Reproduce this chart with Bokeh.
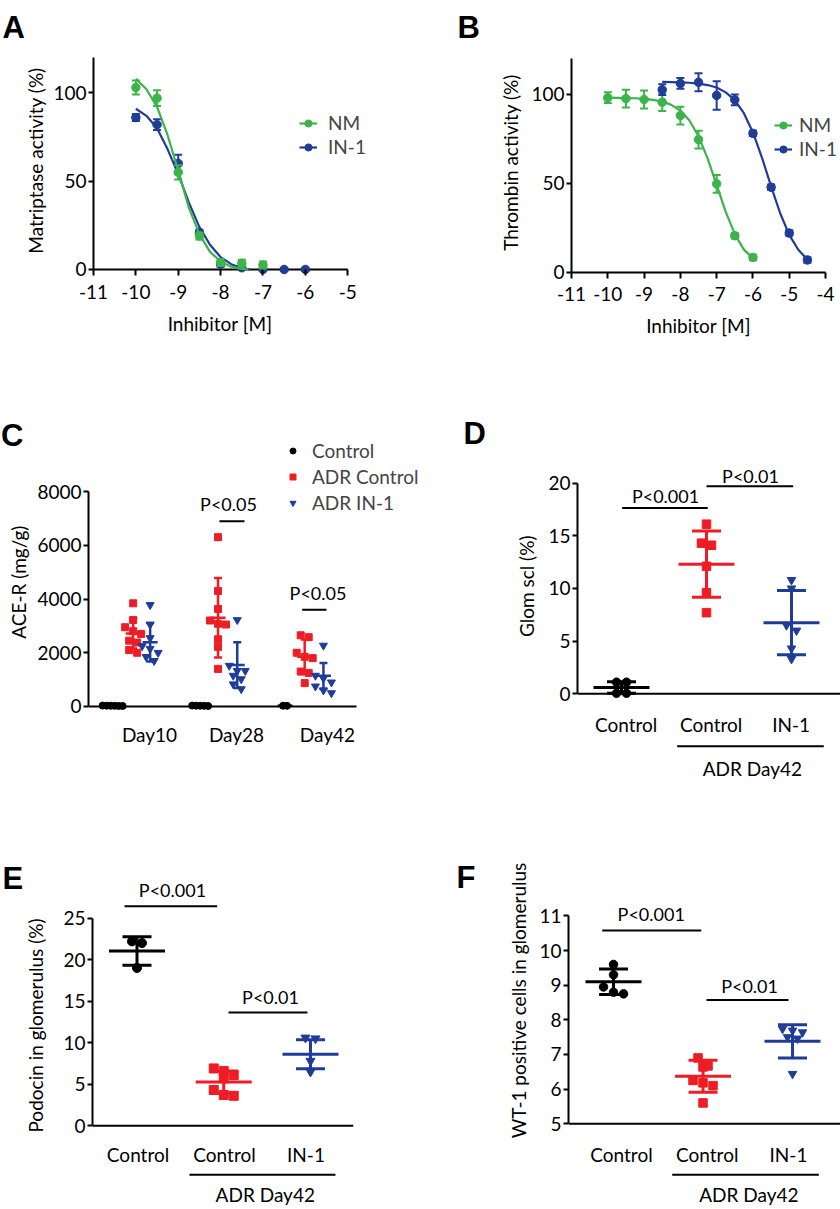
import math
from bokeh.plotting import figure
from bokeh.layouts import column, row
from bokeh.models import Span, Legend, LegendItem, FixedTicker, Range1d
from bokeh.core.properties import value
from bokeh.embed import file_html
from bokeh.resources import INLINE

FONT = "Lato"
LETTER_FONT = "Liberation Sans"
GREEN = "#3BB44A"
BLUE = "#1F3C98"
RED = "#EE1D25"
BLACK = "#000000"
FS = "19px"
PFS = "18px"

# ---------------- data ----------------
# A: matriptase activity vs log inhibitor
a_x_nm = [-10, -9.5, -9, -8.5, -8, -7.5, -7]
a_nm = [103, 97, 55, 19, 4, 3.5, 2.5]
a_nm_err = [4, 4.5, 4, 2, 2, 2, 2]
a_x_in1 = [-10, -9.5, -9, -8.5, -8, -7.5, -7, -6.5, -6]
a_in1 = [86, 82, 60, 21, 3, 1, 0, 0, 0]
a_in1_err = [2, 3, 5, 1.5, 1.5, 1, 0.5, 0.5, 0.5]
a_fit_x_nm = [-10, -9.75, -9.5, -9.25, -9, -8.75, -8.5, -8.25, -8, -7.75, -7.5, -7.35]
a_fit_nm = [108, 102, 92, 76, 56, 35, 20, 10, 4.5, 1.6, 0.3, 0]
a_fit_x_in1 = [-10, -9.75, -9.5, -9.25, -9, -8.75, -8.5, -8.25, -8, -7.75, -7.5, -7.3]
a_fit_in1 = [91, 87, 80, 68, 54, 38, 24, 14, 7, 3, 0.8, 0]
a_xticks = [-11, -10, -9, -8, -7, -6, -5]

# B: thrombin activity vs log inhibitor
b_x_nm = [-10, -9.5, -9, -8.5, -8, -7.5, -7, -6.5, -6]
b_nm = [98, 97.5, 97, 95.5, 88, 74.5, 49.7, 20.6, 8.4]
b_nm_err = [3, 5, 5, 5, 5, 5, 5, 1.5, 1.5]
b_x_in1 = [-8.5, -8, -7.5, -7, -6.5, -6, -5.5, -5, -4.5]
b_in1 = [102.5, 106, 106.7, 99.3, 96.8, 78, 47.8, 22.1, 7]
b_in1_err = [3, 3, 5, 8, 3, 1.5, 1.5, 1.5, 1.5]
b_fit_x_nm = [-10, -9.75, -9.5, -9.25, -9, -8.75, -8.5, -8.25, -8, -7.75, -7.5, -7.25, -7, -6.75, -6.5, -6.25, -6]
b_fit_nm = [98, 97.9, 97.8, 97.7, 97.4, 96.8, 95.9, 94.0, 90.8, 85.2, 76.4, 64.0, 49.0, 34.0, 21.5, 12.8, 8.0]
b_fit_x_in1 = [-8.5, -8.25, -8, -7.75, -7.5, -7.25, -7, -6.75, -6.5, -6.25, -6, -5.75, -5.5, -5.25, -5, -4.75, -4.5]
b_fit_in1 = [106.9, 106.8, 106.6, 106.4, 105.9, 105.1, 103.7, 101.0, 96.6, 89.3, 78.5, 64.3, 48.3, 33.2, 21.1, 12.7, 7.3]
b_xticks = [-11, -10, -9, -8, -7, -6, -5, -4]

# C: ACE-R (mg/g)
c_days = ["Day10", "Day28", "Day42"]
c_control = [[25, 30, 20, 35, 28, 22], [30, 25, 35, 20, 28], [25, 30]]
c_adr = [[3840, 3220, 2950, 2800, 2700, 2450, 2380, 2100, 2000],
         [6300, 4300, 3630, 3200, 3080, 3050, 2500, 2220, 1400],
         [2650, 2580, 2000, 1850, 1800, 1300, 1250, 870]]
c_in1 = [[3780, 3050, 2550, 2250, 2150, 2000, 1850, 1700],
         [3220, 1520, 1330, 1330, 1150, 1020, 830, 650],
         [2270, 1150, 1050, 900, 750, 600, 500]]
c_control_mean = [27, 28, 28]
c_control_sd = [5, 5, 4]
c_adr_mean = [2720, 3300, 1850]
c_adr_sd = [560, 1480, 640]
c_in1_mean = [2390, 1540, 1140]
c_in1_sd = [720, 850, 480]
c_yticks = [0, 2000, 4000, 6000, 8000]

# D: Glom scl (%)
d_ctrl = [1.1, 1.1, 0.05, 0.05]
d_adr = [16.1, 14.3, 14.1, 12.1, 9.6, 7.7]
d_in1 = [10.8, 10.0, 6.5, 6.0, 4.3, 3.3]
d_mean = [0.6, 12.3, 6.75]
d_sd = [0.55, 3.15, 3.05]
d_yticks = [0, 5, 10, 15, 20]

# E: Podocin in glomerulus (%)
e_ctrl = [22.2, 22.0, 19.0]
e_adr = [6.9, 6.6, 6.1, 5.7, 4.3, 3.7, 3.6]
e_in1 = [10.6, 10.5, 7.8, 6.5]
e_mean = [21.05, 5.25, 8.6]
e_sd = [1.72, 1.35, 1.75]
e_yticks = [0, 5, 10, 15, 20, 25]

# F: WT-1 positive cells in glomerulus
f_ctrl = [9.6, 9.3, 8.95, 8.8, 8.75]
f_adr = [6.9, 6.67, 6.64, 6.25, 6.18, 6.1, 5.6]
f_in1 = [7.74, 7.69, 7.64, 7.5, 7.46, 6.44]
f_mean = [9.1, 6.37, 7.38]
f_sd = [0.365, 0.46, 0.48]
f_yticks = [5, 6, 7, 8, 9, 10, 11]

group_labels = ["Control", "Control", "IN-1"]

# significance annotations: (text, line x0, line x1, line y, text x, text y)
c_sig = [("P<0.05", 1.466, 1.746, 6895, 1.567, 7528),
         ("P<0.05", 2.392, 2.664, 3598, 2.569, 4231)]
d_sig = [("P<0.001", 1.008, 2.015, 17.63, 1.518, 18.78),
         ("P<0.01", 2.0, 3.02, 19.69, 2.518, 20.66)]
e_sig = [("P<0.001", 0.856, 1.924, 26.43, 1.409, 28.37),
         ("P<0.01", 2.055, 2.965, 13.64, 2.539, 15.5)]
f_sig = [("P<0.001", 0.874, 1.98, 10.58, 1.421, 11.06),
         ("P<0.01", 2.039, 2.955, 8.575, 2.52, 8.99)]


# ---------------- helpers ----------------
def fig(w, h, xr, yr, left=0, right=0, top=0, bottom=0, axes=True):
    kw = {}
    if not axes:
        kw = dict(x_axis_location=None, y_axis_location=None)
    p = figure(width=w, height=h, x_range=xr, y_range=yr,
               toolbar_location=None, output_backend="svg", title=None,
               min_border_left=left, min_border_right=right,
               min_border_top=top, min_border_bottom=bottom, **kw)
    p.frame_align = False
    p.outline_line_color = None
    p.background_fill_color = "white"
    p.border_fill_color = "white"
    p.xgrid.visible = False
    p.ygrid.visible = False
    for r in list(p.center):
        if type(r).__name__ == "Grid":
            r.visible = False
    if axes:
        for ax in (p.xaxis[0], p.yaxis[0]):
            ax.major_label_text_font = FONT
            ax.major_label_text_font_size = FS
            ax.major_label_text_color = "black"
            ax.axis_line_width = 2
            ax.axis_line_color = "black"
            ax.major_tick_line_width = 2
            ax.major_tick_line_color = "black"
            ax.minor_tick_line_color = None
        p.xaxis.axis_line_color = None
        p.yaxis.major_tick_out = 5
        p.yaxis.major_tick_in = 0
        p.yaxis.major_label_standoff = 2
    return p


def txt(p, x, y, s, size=FS, angle=0.0, align="center", baseline="middle", font=FONT, style="normal"):
    p.text([x], [y], text=[s], angle=angle, text_font=value(font), text_font_size=size,
           text_font_style=style, text_align=align, text_baseline=baseline, text_color="black")


def strip(w, h, letter, lx, ly, title, tx, ty):
    s = fig(w, h, Range1d(0, w), Range1d(0, h), axes=False)
    txt(s, lx, ly, letter, size="31px", align="left", baseline="alphabetic",
        font=LETTER_FONT, style="bold")
    txt(s, tx, ty, title, angle=math.pi / 2)
    return s


def under(main, w, h, left, right):
    return fig(w, h, main.x_range, Range1d(0, h), left=left, right=right, axes=False)


def swarm(vals, center, px_x, px_y, size, spacing):
    idx = sorted(range(len(vals)), key=lambda i: -vals[i])
    bins = []
    for i in idx:
        if bins and abs(vals[bins[-1][0]] - vals[i]) * px_y < size:
            bins[-1].append(i)
        else:
            bins.append([i])
    xs = [center] * len(vals)
    for b in bins:
        k = len(b)
        for j, i in enumerate(b):
            xs[i] = center + (j - (k - 1) / 2) * spacing / px_x
    return xs


def dose_series(p, x, y, err, fx, fy, color, px_x):
    ln = p.line(fx, fy, line_color=color, line_width=2.2)
    lo = [a - e for a, e in zip(y, err)]
    hi = [a + e for a, e in zip(y, err)]
    cw = 4 / px_x
    p.segment(x, lo, x, hi, line_color=color, line_width=2)
    p.segment([a - cw for a in x], lo, [a + cw for a in x], lo, line_color=color, line_width=2)
    p.segment([a - cw for a in x], hi, [a + cw for a in x], hi, line_color=color, line_width=2)
    sc = p.scatter(x, y, marker="circle", size=8.5, fill_color=color, line_color=color)
    return ln, sc


def group(p, vals, mean, sd, cx, marker, color, size, px_x, px_y, spacing, mean_half, cap_half, lw):
    xs = swarm(vals, cx, px_x, px_y, size, spacing)
    r = p.scatter(xs, vals, marker=marker, size=size, fill_color=color, line_color=color)
    p.segment([cx], [mean - sd], [cx], [mean + sd], line_color=color, line_width=lw)
    cw = cap_half / px_x
    p.segment([cx - cw, cx - cw], [mean - sd, mean + sd], [cx + cw, cx + cw], [mean - sd, mean + sd],
              line_color=color, line_width=lw)
    mw = mean_half / px_x
    p.segment([cx - mw], [mean], [cx + mw], [mean], line_color=color, line_width=lw)
    return r


def sig(p, items):
    p.segment([s[1] for s in items], [s[3] for s in items], [s[2] for s in items], [s[3] for s in items],
              line_color="black", line_width=2)
    p.text([s[4] for s in items], [s[5] for s in items], text=[s[0] for s in items],
           text_font=value(FONT), text_font_size=PFS, text_align="center", text_baseline="middle",
           text_color="black")


def adr_bracket(u, x0, x1, y, tx, ty):
    u.segment([x0], [y], [x1], [y], line_color="black", line_width=2)
    txt(u, tx, ty, "ADR Day42")


def cat_axis(p, ticks, labels, standoff):
    p.xaxis.ticker = FixedTicker(ticks=ticks)
    p.xaxis.major_label_overrides = {t: l for t, l in zip(ticks, labels)}
    p.xaxis.major_tick_line_color = None
    p.xaxis.major_label_standoff = standoff


def num_xaxis(p, ticks, standoff):
    p.xaxis.ticker = FixedTicker(ticks=ticks)
    p.xaxis.major_label_overrides = {t: str(t) for t in ticks}
    p.xaxis.major_tick_in = 6
    p.xaxis.major_tick_out = 0
    p.xaxis.major_label_standoff = standoff
    p.segment([ticks[0]], [0], [ticks[-1]], [0], line_color="black", line_width=2)


# ---------------- A ----------------
pA = fig(370, 308, Range1d(-11, -3.282), Range1d(-3.4, 120), left=42, right=0, top=57, bottom=33)
pxA = 42.5
num_xaxis(pA, a_xticks, 9)
pA.yaxis.ticker = FixedTicker(ticks=[0, 50, 100])
pA.yaxis.bounds = (0, 120)
lnA2, scA2 = dose_series(pA, a_x_in1, a_in1, a_in1_err, a_fit_x_in1, a_fit_in1, BLUE, pxA)
lnA1, scA1 = dose_series(pA, a_x_nm, a_nm, a_nm_err, a_fit_x_nm, a_fit_nm, GREEN, pxA)
pA.add_layout(Legend(items=[LegendItem(label="NM", renderers=[lnA1, scA1]),
                            LegendItem(label="IN-1", renderers=[lnA2, scA2])],
                     location=(206, 117), border_line_color=None, background_fill_alpha=0,
                     padding=0, margin=0, spacing=1, glyph_width=18, glyph_height=20, label_height=20,
                     label_standoff=11, label_text_font=FONT, label_text_font_size=FS))
uA = under(pA, 370, 72, 42, 0)
txt(uA, (a_xticks[0] + a_xticks[-1]) / 2, 57.3, "Inhibitor [M]")
sA = strip(50, 380, "A", 2, 353, "Matriptase activity (%)", 35, 220)

# ---------------- B ----------------
pB = fig(317, 310, Range1d(-11, -3.588), Range1d(-3.4, 120), left=48, right=0, top=58, bottom=32)
pxB = 36.29
num_xaxis(pB, b_xticks, 8)
pB.yaxis.ticker = FixedTicker(ticks=[0, 50, 100])
pB.yaxis.bounds = (0, 120)
lnB1, scB1 = dose_series(pB, b_x_nm, b_nm, b_nm_err, b_fit_x_nm, b_fit_nm, GREEN, pxB)
lnB2, scB2 = dose_series(pB, b_x_in1, b_in1, b_in1_err, b_fit_x_in1, b_fit_in1, BLUE, pxB)
pB.add_layout(Legend(items=[LegendItem(label="NM", renderers=[lnB1, scB1]),
                            LegendItem(label="IN-1", renderers=[lnB2, scB2])],
                     location=(203, 118), border_line_color=None, background_fill_alpha=0,
                     padding=0, margin=0, spacing=1, glyph_width=18, glyph_height=20, label_height=20,
                     label_standoff=7, label_text_font=FONT, label_text_font_size=FS))
uB = under(pB, 317, 70, 48, 0)
txt(uB, (b_xticks[0] + b_xticks[-1]) / 2, 55, "Inhibitor [M]")
sB = strip(103, 380, "B", 37, 353, "Thrombin activity (%)", 90, 218)

# ---------------- C ----------------
pC = fig(389, 405, Range1d(0, 3.7164), Range1d(-223.3, 10047), left=57, right=0, top=56, bottom=73)
pxC = 89.333
pyC = 0.026875
cat_axis(pC, [0.683, 1.657, 2.675], c_days, 4)
pC.segment([0], [0], [len(c_days)], [0], line_color="black", line_width=2)
pC.yaxis.ticker = FixedTicker(ticks=c_yticks)
pC.yaxis.bounds = (0, 8000)
c_pos_ctrl = [0.27, 1.25, 2.2]
c_pos_adr = [0.5, 1.45, 2.42]
c_pos_in1 = [0.69, 1.665, 2.63]
rc = []
for k in range(3):
    r1 = group(pC, c_control[k], c_control_mean[k], c_control_sd[k], c_pos_ctrl[k], "circle", BLACK, 7,
               pxC, pyC, 4, 7.5, 4, 2.5)
    r2 = group(pC, c_adr[k], c_adr_mean[k], c_adr_sd[k], c_pos_adr[k], "square", RED, 7,
               pxC, pyC, 8, 7.5, 4, 2.5)
    r3 = group(pC, c_in1[k], c_in1_mean[k], c_in1_sd[k], c_pos_in1[k], "inverted_triangle", BLUE, 8,
               pxC, pyC, 8, 7.5, 4, 2.5)
    rc.append((r1, r2, r3))
sig(pC, c_sig)
pC.add_layout(Legend(items=[LegendItem(label="Control", renderers=[rc[0][0]]),
                            LegendItem(label="ADR Control", renderers=[rc[0][1]]),
                            LegendItem(label="ADR IN-1", renderers=[rc[0][2]])],
                     location=(197, 198), border_line_color=None, background_fill_alpha=0,
                     padding=0, margin=0, spacing=3, glyph_width=15, glyph_height=15, label_height=20,
                     label_standoff=12, label_text_font=FONT, label_text_font_size=FS))
sC = strip(31, 405, "C", 0.5, 350, "ACE-R (mg/g)", 18.3, 203.3)

# ---------------- D ----------------
pD = fig(300, 358, Range1d(0.4824, 3.5765), Range1d(-0.546, 21.67), left=37, right=0, top=85, bottom=29)
pxD = 85.0
pyD = 10.983
cat_axis(pD, [1.055, 2.055, 2.996], group_labels, 7)
pD.add_layout(Span(location=0, dimension="width", line_color="black", line_width=2))
pD.yaxis.ticker = FixedTicker(ticks=d_yticks)
pD.yaxis.bounds = (0, 20)
for vals, m, s, cx, mk, col in zip([d_ctrl, d_adr, d_in1], d_mean, d_sd, [1, 2, 3],
                                   ["circle", "square", "inverted_triangle"], [BLACK, RED, BLUE]):
    group(pD, vals, m, s, cx, mk, col, 8.5, pxD, pyD, 10, 28, 14.5, 3)
sig(pD, d_sig)
uD = under(pD, 300, 47, 37, 0)
adr_bracket(uD, 1.655, 3.38, 39.3, 2.54, 16.7)
sD = strip(120, 405, "D", 43, 352, "Glom scl (%)", 106, 199.2)

# ---------------- E ----------------
pE = fig(372, 383, Range1d(0.487, 3.496), Range1d(-0.698, 29.535), left=44, right=67, top=95, bottom=28)
pxE = 86.74
pyE = 8.6
cat_axis(pE, [1.012, 2.009, 2.948], group_labels, 5)
pE.add_layout(Span(location=0, dimension="width", line_color="black", line_width=2))
pE.yaxis.ticker = FixedTicker(ticks=e_yticks)
pE.yaxis.bounds = (0, 25)
for vals, m, s, cx, mk, col in zip([e_ctrl, e_adr, e_in1], e_mean, e_sd, [1, 2, 3],
                                   ["circle", "square", "inverted_triangle"], [BLACK, RED, BLUE]):
    group(pE, vals, m, s, cx, mk, col, 9, pxE, pyE, 10, 28, 14.5, 3)
sig(pE, e_sig)
uE = under(pE, 372, 37, 44, 67)
adr_bracket(uE, 1.605, 3.288, 30.7, 2.479, 11)
sE = strip(48, 420, "E", 2, 327, "Podocin in glomerulus (%)", 35, 180)

# ---------------- F ----------------
pF = fig(309, 383, Range1d(0.497, 3.536), Range1d(4.833, 11.36), left=37, right=0, top=118, bottom=30)
pxF = 89.5
pyF = 36.0
cat_axis(pF, [1.089, 2.047, 2.955], group_labels, 7)
pF.add_layout(Span(location=f_yticks[0], dimension="width", line_color="black", line_width=2))
pF.yaxis.ticker = FixedTicker(ticks=f_yticks)
pF.yaxis.bounds = (5, 11)
for vals, m, s, cx, mk, col in zip([f_ctrl, f_adr, f_in1], f_mean, f_sd, [1, 2, 3],
                                   ["circle", "square", "inverted_triangle"], [BLACK, RED, BLUE]):
    group(pF, vals, m, s, cx, mk, col, 8.5, pxF, pyF, 10, 28, 14.5, 3)
sig(pF, f_sig)
uF = under(pF, 309, 37, 37, 0)
adr_bracket(uF, 1.656, 3.294, 30.7, 2.512, 11)
sF = strip(111, 420, "F", 36, 328, "WT-1 positive cells in glomerulus", 98.3, 205)

layout = column(
    row(sA, column(pA, uA), sB, column(pB, uB)),
    row(sC, pC, sD, column(pD, uD)),
    row(sE, column(pE, uE), sF, column(pF, uF)),
)
open("out.html", "w").write(file_html(layout, INLINE))
